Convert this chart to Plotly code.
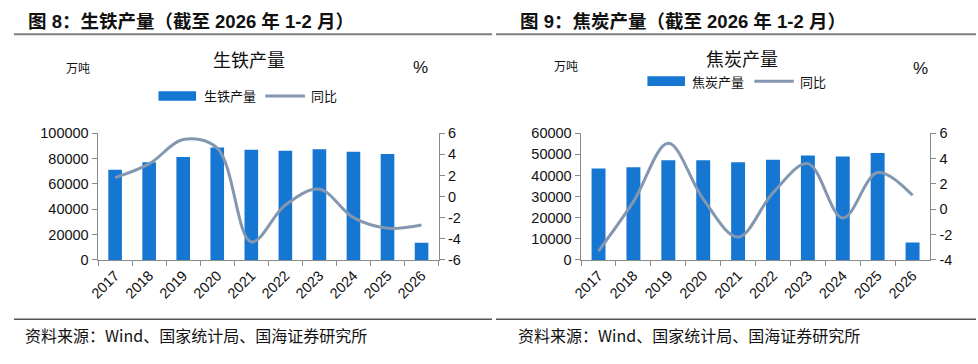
import plotly.graph_objects as go

W, H = 978, 364

years = ["2017", "2018", "2019", "2020", "2021", "2022", "2023", "2024", "2025", "2026"]

# 图8 生铁产量 (万吨) 与 同比 (%)
iron_output = [71100, 77100, 81200, 88700, 86900, 86200, 87400, 85400, 83700, 13600]
iron_yoy = [1.8, 3.1, 5.4, 4.6, -4.3, -0.8, 0.7, -2.0, -3.0, -2.7]

# 图9 焦炭产量 (万吨) 与 同比 (%)
coke_output = [43300, 43900, 47200, 47200, 46300, 47500, 49450, 49000, 50650, 8300]
coke_yoy = [-3.3, 0.6, 5.2, 0.8, -2.2, 1.3, 3.6, -0.7, 2.9, 1.1]

# axis tick values / labels
iron_left_ticks = [0, 20000, 40000, 60000, 80000, 100000]
iron_right_ticks = [-6, -4, -2, 0, 2, 4, 6]
coke_left_ticks = [0, 10000, 20000, 30000, 40000, 50000, 60000]
coke_right_ticks = [-4, -2, 0, 2, 4, 6]

fig_titles = ["图 8：生铁产量（截至 2026 年 1-2 月）", "图 9：焦炭产量（截至 2026 年 1-2 月）"]
chart_titles = ["生铁产量", "焦炭产量"]
legend_bar_names = ["生铁产量", "焦炭产量"]
legend_line_name = "同比"
left_unit = "万吨"
right_unit = "%"
source_text = "资料来源：Wind、国家统计局、国海证券研究所"

BAR = "#1677D3"
LINE = "#8497B0"
AXIS = "#8a8a8a"
CJK = "Noto Sans CJK SC"
LAT = "Liberation Sans, Arial, Noto Sans CJK SC"


def px(x):
    return x / W


def py(y):
    return 1 - y / H


def labels(vals):
    return [str(v) for v in vals]


fig = go.Figure()

fig.add_trace(go.Bar(x=years, y=iron_output, marker=dict(color=BAR, line=dict(width=0)),
                     xaxis="x", yaxis="y", name=legend_bar_names[0], showlegend=False))
fig.add_trace(go.Scatter(x=years, y=iron_yoy, mode="lines", line=dict(color=LINE, width=3, shape="spline", smoothing=1.0),
                         xaxis="x", yaxis="y2", name=legend_line_name, showlegend=False))
fig.add_trace(go.Bar(x=years, y=coke_output, marker=dict(color=BAR, line=dict(width=0)),
                     xaxis="x2", yaxis="y3", name=legend_bar_names[1], showlegend=False))
fig.add_trace(go.Scatter(x=years, y=coke_yoy, mode="lines", line=dict(color=LINE, width=3, shape="spline", smoothing=1.0),
                         xaxis="x2", yaxis="y4", name=legend_line_name, showlegend=False))

tickfont = dict(family=LAT, size=14.5, color="#111111")
ydom = [py(263.5), py(131)]

xcommon = dict(type="category", tickson="boundaries", ticks="outside", ticklen=5, tickcolor=AXIS,
               showline=True, linecolor=AXIS, linewidth=1.5, showgrid=False, tickangle=-45,
               tickfont=tickfont, zeroline=False)
ycommon = dict(ticks="outside", ticklen=5, tickcolor=AXIS, showline=True, linecolor=AXIS, linewidth=1.5,
               showgrid=False, zeroline=False, tickfont=tickfont, tickmode="array")

layout = dict(
    width=W, height=H, margin=dict(l=0, r=0, t=0, b=0),
    paper_bgcolor="white", plot_bgcolor="white",
    bargap=0.6, showlegend=False, hovermode=False,
    xaxis=dict(domain=[px(89), px(433)], anchor="y", **xcommon),
    yaxis=dict(domain=ydom, anchor="x", range=[0, 100000], side="left",
               tickvals=iron_left_ticks, ticktext=labels(iron_left_ticks), **ycommon),
    yaxis2=dict(overlaying="y", anchor="x", side="right", range=[-6, 6],
                tickvals=iron_right_ticks, ticktext=labels(iron_right_ticks), **ycommon),
    xaxis2=dict(domain=[px(577), px(929.5)], anchor="y3", **xcommon),
    yaxis3=dict(domain=ydom, anchor="x2", range=[0, 60000], side="left",
                tickvals=coke_left_ticks, ticktext=labels(coke_left_ticks), **ycommon),
    yaxis4=dict(overlaying="y3", anchor="x2", side="right", range=[-4, 6],
                tickvals=coke_right_ticks, ticktext=labels(coke_right_ticks), **ycommon),
)
fig.update_layout(**layout)

ann = []
shapes = []


def text(x, y, s, size, family=CJK, color="#111111", xanchor="center", bold=False):
    if bold:
        s = "<b>" + s + "</b>"
    ann.append(dict(x=px(x), y=py(y), xref="paper", yref="paper", text=s, showarrow=False,
                    xanchor=xanchor, yanchor="middle", borderpad=0,
                    font=dict(family=family, size=size, color=color)))


# Figure titles
text(17, 14, fig_titles[0], 18.5, family=LAT, xanchor="left", bold=True)
text(514, 14, fig_titles[1], 18.5, family=LAT, xanchor="left", bold=True)

# separator lines top and bottom
for x0, x1 in [(4, 487), (491, 976)]:
    shapes.append(dict(type="line", xref="paper", yref="paper", x0=px(x0), x1=px(x1), y0=py(27.5), y1=py(27.5),
                       line=dict(color="#7f7f7f", width=2)))
    shapes.append(dict(type="line", xref="paper", yref="paper", x0=px(x0), x1=px(x1), y0=py(325.5), y1=py(325.5),
                       line=dict(color="#555555", width=1.5)))

# chart titles, units
text(241.5, 53, chart_titles[0], 18)
text(740, 52, chart_titles[1], 18)
text(69, 62, left_unit, 12)
text(562, 60, left_unit, 12)
text(415, 62, right_unit, 17, family=LAT)
text(920, 63, right_unit, 17, family=LAT)

# legends
for (bx0, bx1, by, tx, lx0, lx1, t2x, name) in [
    (150, 188, 92, 195, 258, 298, 303, legend_bar_names[0]),
    (644, 682, 76.5, 688, 752, 792, 797, legend_bar_names[1]),
]:
    shapes.append(dict(type="rect", xref="paper", yref="paper", x0=px(bx0), x1=px(bx1), y0=py(by + 5), y1=py(by - 5),
                       fillcolor=BAR, line=dict(width=0)))
    shapes.append(dict(type="line", xref="paper", yref="paper", x0=px(lx0), x1=px(lx1), y0=py(by), y1=py(by),
                       line=dict(color=LINE, width=3)))
    text(tx, by, name, 13, xanchor="left")
    text(t2x, by, legend_line_name, 13, xanchor="left")

# sources
text(14, 342, source_text, 16, xanchor="left")
text(512, 342, source_text, 16, xanchor="left")

fig.update_layout(annotations=ann, shapes=shapes)

fig.write_html("out.html", config={"displayModeBar": False, "staticPlot": True},
               post_script="document.body.style.margin='0';document.body.style.overflow='hidden';")
